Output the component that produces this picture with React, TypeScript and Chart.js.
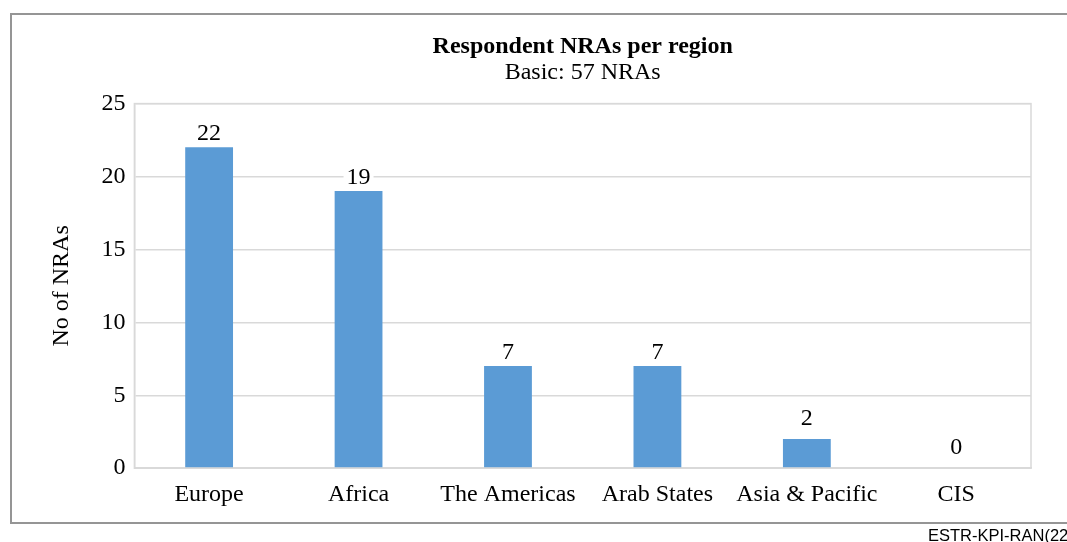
import React, { useEffect, useRef } from "react";
import { Chart, registerables } from "chart.js";

Chart.register(...registerables);

const categories = ["Europe", "Africa", "The Americas", "Arab States", "Asia & Pacific", "CIS"];
const respondents = [22, 19, 7, 7, 2, 0];
const yTicks = [0, 5, 10, 15, 20, 25];

const SERIF = "'Liberation Serif', 'Times New Roman', serif";
const GRID = "#d9d9d9";

const areaBorder = {
  id: "areaBorder",
  afterDraw(chart: any) {
    const { ctx, chartArea } = chart;
    ctx.save();
    ctx.strokeStyle = GRID;
    ctx.lineWidth = 1.5;
    ctx.strokeRect(chartArea.left, chartArea.top, chartArea.right - chartArea.left, chartArea.bottom - chartArea.top);
    ctx.restore();
  },
};

const valueLabels = {
  id: "valueLabels",
  afterDatasetsDraw(chart: any) {
    const { ctx } = chart;
    const meta = chart.getDatasetMeta(0);
    const data = chart.data.datasets[0].data as number[];
    ctx.save();
    ctx.font = `24px ${SERIF}`;
    ctx.textAlign = "center";
    ctx.textBaseline = "alphabetic";
    meta.data.forEach((bar: any, i: number) => {
      const text = String(data[i]);
      const x = bar.x;
      const y = bar.y - (data[i] < 5 ? 14 : 7);
      const w = ctx.measureText(text).width;
      ctx.fillStyle = "#ffffff";
      ctx.fillRect(x - w / 2 - 3, y - 18, w + 6, 20);
      ctx.fillStyle = "#000000";
      ctx.fillText(text, x, y);
    });
    ctx.restore();
  },
};

export default function App() {
  const ref = useRef<HTMLCanvasElement | null>(null);

  useEffect(() => {
    if (!ref.current) return;
    const chart = new Chart(ref.current, {
      type: "bar",
      data: {
        labels: categories,
        datasets: [
          {
            data: respondents,
            backgroundColor: "#5B9BD5",
            borderWidth: 0,
            barPercentage: 0.32,
            categoryPercentage: 1,
          },
        ],
      },
      options: {
        animation: false,
        responsive: false,
        maintainAspectRatio: false,
        layout: { padding: { top: 34, left: 49, right: 36, bottom: 29 } },
        plugins: {
          legend: { display: false },
          tooltip: { enabled: false },
          title: {
            display: true,
            text: "Respondent NRAs per region",
            color: "#000",
            fullSize: false,
            font: { family: SERIF, size: 24, weight: "bold", lineHeight: 1.1 },
            padding: { top: 0, bottom: 0 },
          },
          subtitle: {
            display: true,
            text: "Basic: 57 NRAs",
            color: "#000",
            fullSize: false,
            font: { family: SERIF, size: 24, lineHeight: 1.05 },
            padding: { top: 0, bottom: 18 },
          },
        },
        scales: {
          x: {
            grid: { display: false },
            border: { display: true, color: GRID, width: 1.5 },
            ticks: { color: "#000", font: { family: SERIF, size: 24 }, padding: 4, maxRotation: 0 },
          },
          y: {
            min: 0,
            max: 25,
            afterBuildTicks(axis: any) {
              axis.ticks = yTicks.map((v) => ({ value: v }));
            },
            grid: { color: GRID, lineWidth: 1.5, drawTicks: false },
            border: { display: true, color: GRID, width: 1.5 },
            ticks: { color: "#000", font: { family: SERIF, size: 24 }, padding: 9 },
            title: {
              display: true,
              text: "No of NRAs",
              color: "#000",
              font: { family: SERIF, size: 24, lineHeight: 1.1 },
              padding: { top: 0, bottom: 17 },
            },
          },
        },
      },
      plugins: [areaBorder, valueLabels],
    });
    return () => chart.destroy();
  }, []);

  return (
    <div style={{ position: "fixed", left: 0, top: 0, width: 1067, height: 542, overflow: "hidden", background: "#fff" }}>
      <div
        style={{
          position: "absolute",
          left: 10,
          top: 13,
          width: 1080,
          height: 511,
          border: "2px solid #959595",
          boxSizing: "border-box",
        }}
      />
      <canvas ref={ref} width={1067} height={542} style={{ position: "absolute", left: 0, top: 0 }} />
      <div
        style={{
          position: "absolute",
          left: 928,
          top: 527,
          fontFamily: "'Liberation Sans', Arial, sans-serif",
          fontSize: 16.5,
          lineHeight: "16px",
          whiteSpace: "nowrap",
          color: "#000",
        }}
      >
        ESTR-KPI-RAN(22)
      </div>
    </div>
  );
}
